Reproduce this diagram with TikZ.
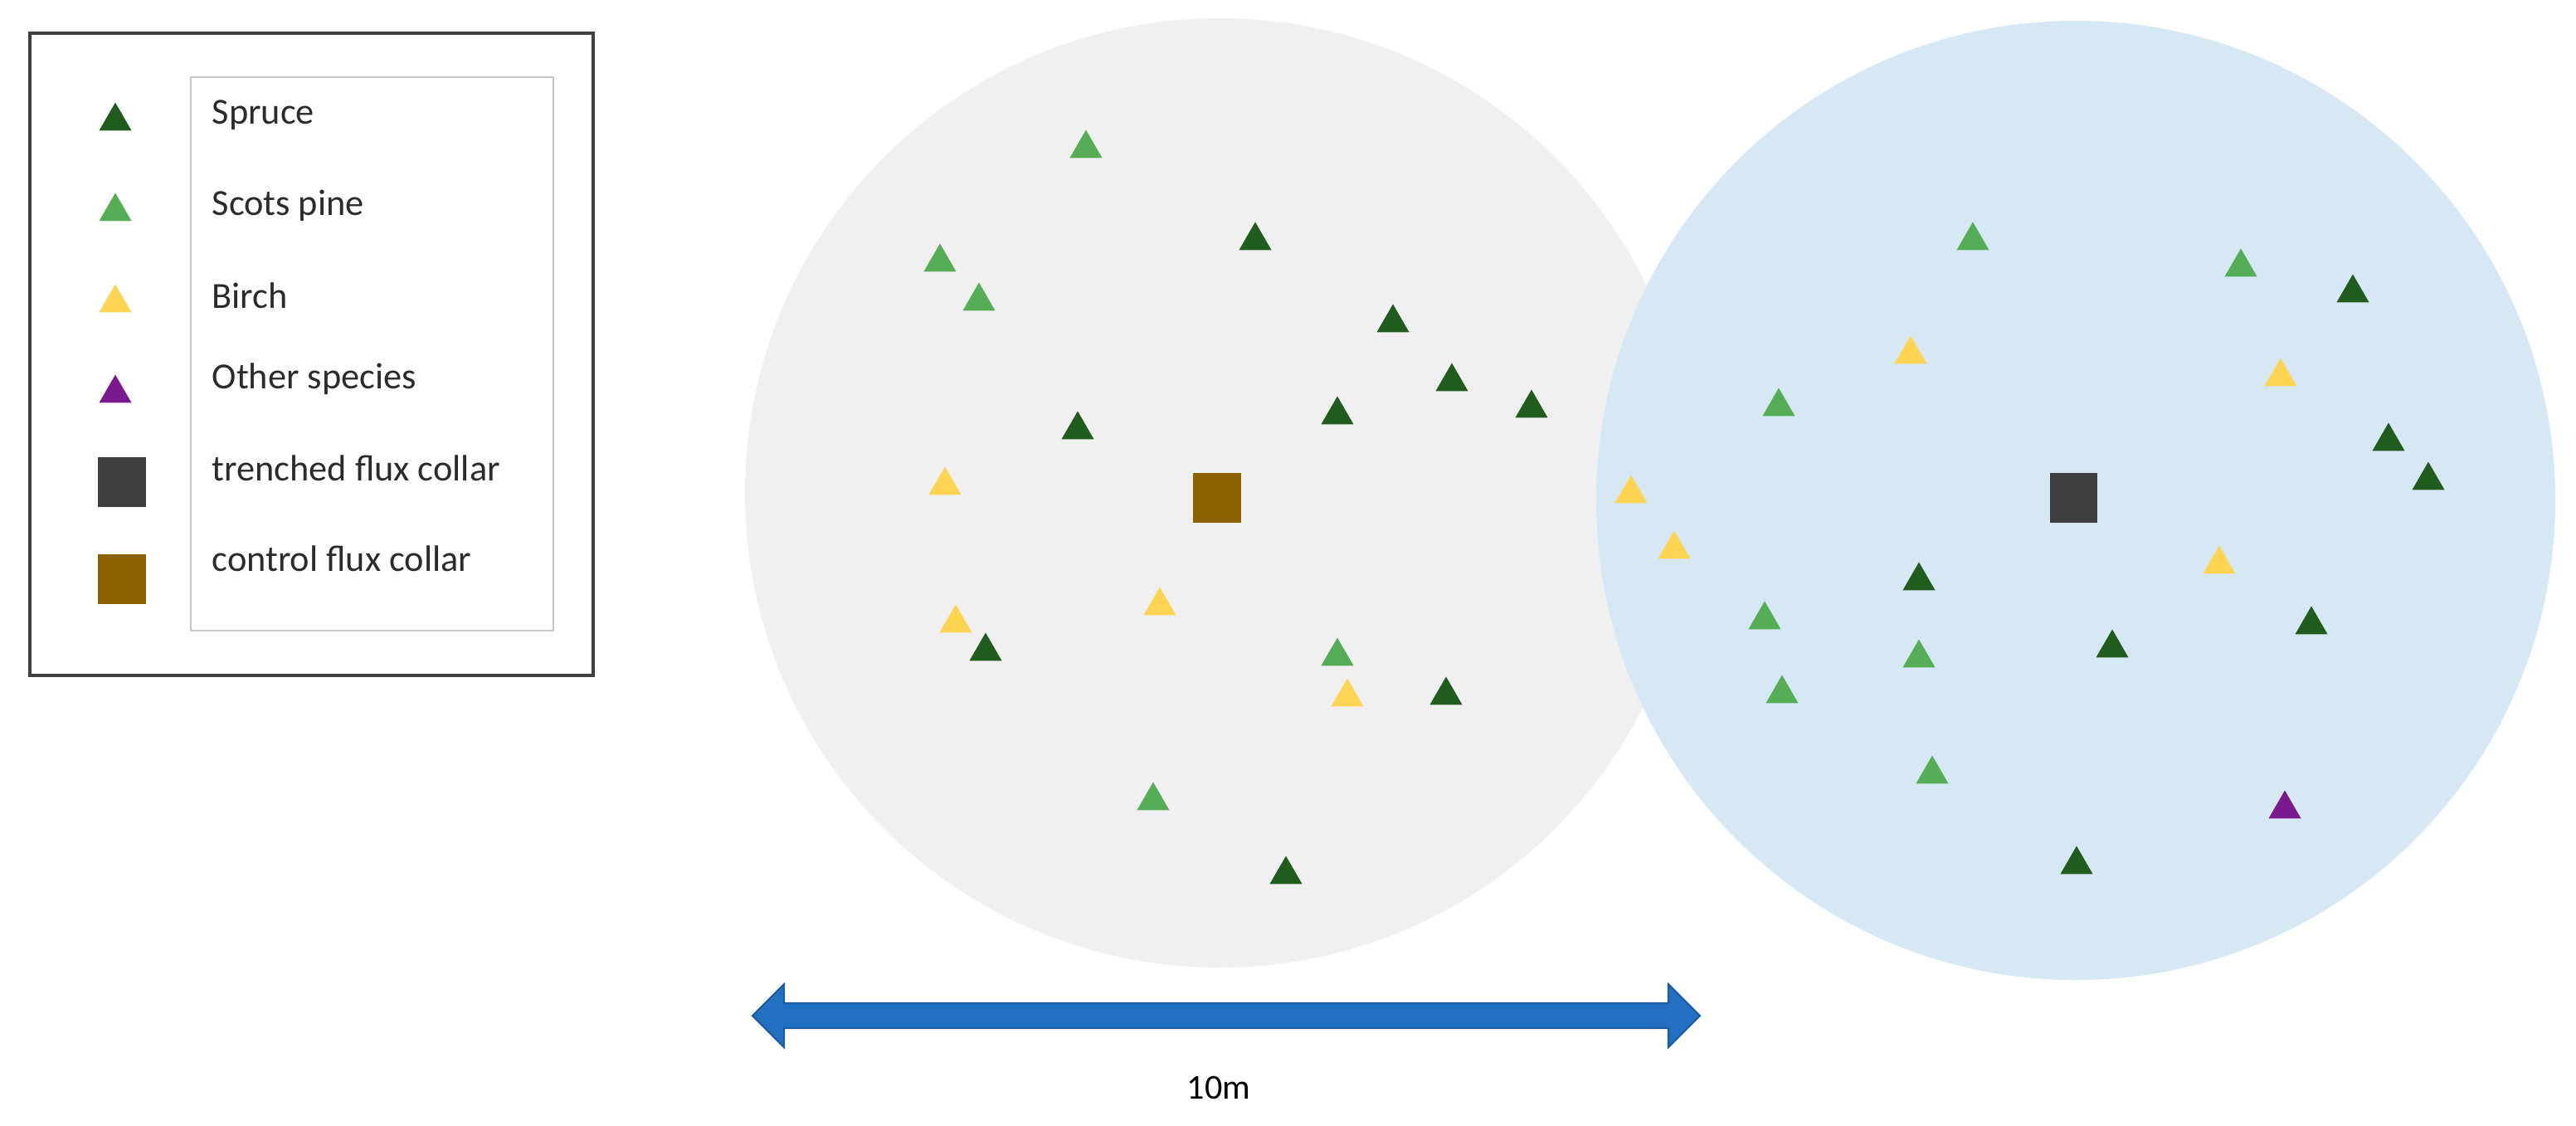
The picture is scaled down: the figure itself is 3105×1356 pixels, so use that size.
\documentclass[tikz,border=0pt]{standalone}
\usepackage{fontspec}
\setmainfont{Carlito}
\usetikzlibrary{shapes.geometric}
\definecolor{sprucec}{HTML}{1F5C1E}
\definecolor{pinec}{HTML}{55AE55}
\definecolor{birchc}{HTML}{FFD452}
\definecolor{otherc}{HTML}{7A1A8E}
\definecolor{trenchc}{HTML}{3F3F3F}
\definecolor{controlc}{HTML}{8C6200}
\definecolor{plotgray}{HTML}{F0F0F0}
\definecolor{plotblue}{HTML}{D6E8F4}
\definecolor{arrowc}{HTML}{2370C3}
\definecolor{arrowedge}{HTML}{1A5CA3}
\definecolor{txtc}{HTML}{2B2B2B}
\tikzset{
  tri/.style={regular polygon, regular polygon sides=3, minimum size=0.45cm, inner sep=0pt, draw=none, yshift=-0.05cm},
  spruce/.style={tri, fill=sprucec},
  pine/.style={tri, fill=pinec},
  birch/.style={tri, fill=birchc},
  other/.style={tri, fill=otherc},
  collar/.style={rectangle, minimum width=0.57cm, minimum height=0.6cm, inner sep=0pt, draw=none},
  legtext/.style={anchor=west, font=\fontsize{12.6}{14}\selectfont, text=txtc, inner sep=0pt},
}
\begin{document}
\begin{tikzpicture}[x=0.01cm, y=-0.01cm]
\useasboundingbox (0,0) rectangle (3105,1356);
\fill[white] (0,0) rectangle (3105,1356);
% plots
\fill[plotgray] (1470,594) circle[radius=572];
\fill[plotblue] (2502,603) circle[radius=578];
% legend
\draw[line width=0.9pt, draw=black!75] (36,40) rectangle (715,814);
\draw[line width=0.6pt, draw=black!22] (230,93) rectangle (667,760);
\node[spruce] (ls) at (139,141) {};
\node[pine] (lp) at (139,250) {};
\node[birch] (lb) at (139,360) {};
\node[other] (lo) at (139,469) {};
\node[collar, fill=trenchc] (lt) at (147,581) {};
\node[collar, fill=controlc] (lc) at (147,698) {};
\node[legtext] (t1) at (255,139) {Spruce};
\node[legtext] (t2) at (255,248) {Scots pine};
\node[legtext] (t3) at (255,356) {Birch};
\node[legtext] (t4) at (255,457) {Other species};
\node[legtext] (t5) at (255,564) {trenched flux collar};
\node[legtext] (t6) at (255,673) {control flux collar};
% left plot
\node[pine] (a1) at (1309,174) {};
\node[pine] (a2) at (1133,311) {};
\node[pine] (a3) at (1180,358) {};
\node[pine] (a4) at (1612,786) {};
\node[pine] (a5) at (1390,960) {};
\node[spruce] (b1) at (1513,285) {};
\node[spruce] (b2) at (1679,384) {};
\node[spruce] (b3) at (1750,455) {};
\node[spruce] (b4) at (1846,487) {};
\node[spruce] (b5) at (1612,495) {};
\node[spruce] (b6) at (1299,513) {};
\node[spruce] (b7) at (1188,780) {};
\node[spruce] (b8) at (1743,833) {};
\node[spruce] (b9) at (1550,1049) {};
\node[birch] (c1) at (1139,580) {};
\node[birch] (c2) at (1398,725) {};
\node[birch] (c3) at (1152,746) {};
\node[birch] (c4) at (1624,835) {};
\node[collar, fill=controlc] (ctl) at (1467,600) {};
% right plot
\node[pine] (d1) at (2378,285) {};
\node[pine] (d2) at (2701,317) {};
\node[pine] (d3) at (2144,485) {};
\node[pine] (d4) at (2127,742) {};
\node[pine] (d5) at (2313,788) {};
\node[pine] (d6) at (2148,831) {};
\node[pine] (d7) at (2329,928) {};
\node[spruce] (e1) at (2836,348) {};
\node[spruce] (e2) at (2879,527) {};
\node[spruce] (e3) at (2927,574) {};
\node[spruce] (e4) at (2313,695) {};
\node[spruce] (e5) at (2546,776) {};
\node[spruce] (e6) at (2786,748) {};
\node[spruce] (e7) at (2503,1037) {};
\node[birch] (f1) at (2303,422) {};
\node[birch] (f2) at (2749,449) {};
\node[birch] (f3) at (1966,590) {};
\node[birch] (f4) at (2018,657) {};
\node[birch] (f5) at (2675,675) {};
\node[other] (g1) at (2754,970) {};
\node[collar, fill=trenchc] (trn) at (2499,600) {};
% scale bar
\coordinate (sl) at (907,1224);
\coordinate (sr) at (2049,1224);
\fill[arrowc, draw=arrowedge, line width=0.6pt]
  (sl) -- ([shift={(38,-38)}]sl) -- ([shift={(38,-15)}]sl) -- ([shift={(-38,-15)}]sr)
  -- ([shift={(-38,-38)}]sr) -- (sr) -- ([shift={(-38,38)}]sr) -- ([shift={(-38,15)}]sr)
  -- ([shift={(38,15)}]sl) -- ([shift={(38,38)}]sl) -- cycle;
\node[font=\fontsize{12}{14}\selectfont, text=black, inner sep=0pt] (lbl) at (1469,1311) {10m};
\end{tikzpicture}
\end{document}
